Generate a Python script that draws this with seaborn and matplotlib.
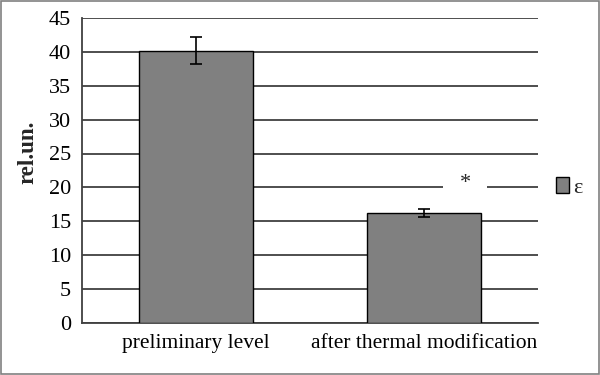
import matplotlib
matplotlib.use('Agg')
import matplotlib.pyplot as plt
import matplotlib.patches as patches
import numpy as np
import pandas as pd
import seaborn as sns

# Data
categories = ['preliminary level', 'after thermal modification']
values = [40.2, 16.2]
errors = [2.0, 0.6]
series_name = 'ε'

sns.set_style('white')
plt.rcParams['font.family'] = ['Liberation Serif', 'DejaVu Serif']

df = pd.DataFrame({'cat': categories, 'val': values})

fig = plt.figure(figsize=(6, 3.75), dpi=100, facecolor='white')
ax = fig.add_axes([0.137, 0.139, 0.76, 0.813])

sns.barplot(data=df, x='cat', y='val', color='#808080', width=0.5,
            edgecolor='black', linewidth=1.0, saturation=1, ax=ax, zorder=3)
ax.errorbar(np.arange(len(values)), values, yerr=errors, fmt='none',
            ecolor='black', elinewidth=1.2, capsize=4, capthick=1.2, zorder=4)

# Axes styling
ax.set_ylim(0, 45)
ax.set_xlim(-0.5, 1.5)
ax.set_yticks(np.arange(0, 46, 5))
ax.yaxis.grid(True, color='#404040', linewidth=1.3, zorder=0)
ax.set_axisbelow(True)
for s in ['top', 'right']:
    ax.spines[s].set_visible(False)
ax.spines['left'].set_color('#404040')
ax.spines['bottom'].set_color('#404040')
ax.spines['left'].set_linewidth(1.3)
ax.spines['bottom'].set_linewidth(1.3)

ax.set_xticks([-0.5, 0.5, 1.5])
ax.set_xticklabels([])
ax.set_xticks([0, 1], minor=True)
ax.set_xticklabels(categories, minor=True, fontsize=15.5, color='black')
ax.tick_params(axis='x', which='major', length=6, width=1, color='#404040', direction='out')
ax.tick_params(axis='x', which='minor', length=0, pad=8)
ax.tick_params(axis='y', length=6, width=1, color='#404040', direction='out',
               labelsize=16, labelcolor='black', pad=2)
ax.set_xlabel('')
ax.set_ylabel('rel.un.', fontsize=16.5, fontweight='bold')
ax.yaxis.set_label_coords(-0.096, 0.56)

# Significance mark
ax.text(1.18, 20.6, '*', ha='center', va='center', fontsize=16, zorder=5,
        bbox=dict(facecolor='white', edgecolor='none', pad=12))

# Legend
handle = patches.Patch(facecolor='#808080', edgecolor='black', label=series_name)
fig.legend(handles=[handle], loc='center left', bbox_to_anchor=(0.893, 0.5),
           frameon=False, fontsize=16, handlelength=0.6, handleheight=0.75,
           handletextpad=0.2)

# Frame around figure
fig.patches.append(patches.Rectangle((0.002, 0.003), 0.996, 0.994, transform=fig.transFigure,
                                     fill=False, edgecolor='#808080', linewidth=1.2))

fig.savefig('out.png', dpi=100)
